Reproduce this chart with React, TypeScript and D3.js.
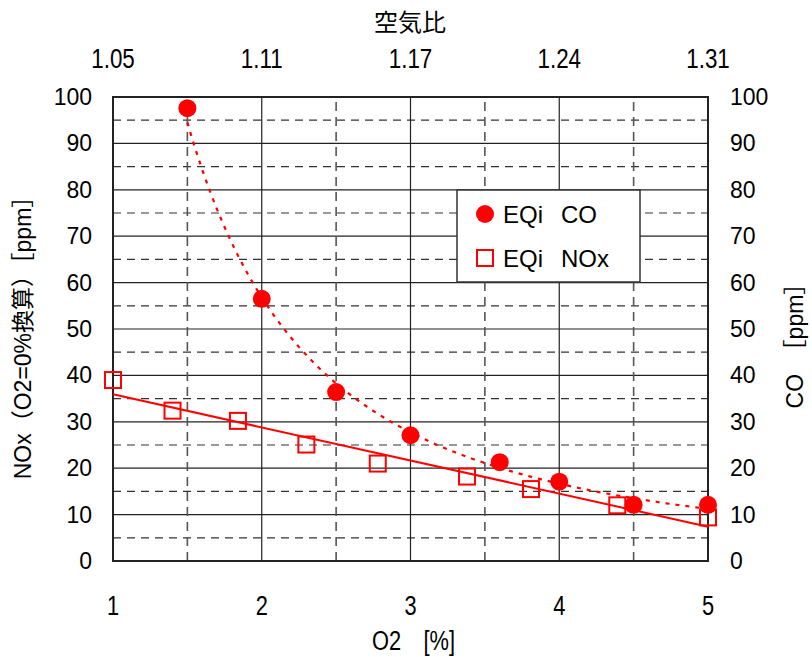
import React from 'react';
import * as d3 from 'd3';

// O2 [%] ticks and the matching air ratio labels on the top axis
const o2Ticks = [1, 2, 3, 4, 5];
const airRatioLabels = ['1.05', '1.11', '1.17', '1.24', '1.31'];
const ppmTicks = [0, 10, 20, 30, 40, 50, 60, 70, 80, 90, 100];

// EQi CO
const coO2 = [1.5, 2, 2.5, 3, 3.6, 4, 4.5, 5];
const coPpm = [97.6, 56.5, 36.4, 27.1, 21.3, 17.1, 12.1, 12.1];

// EQi NOx
const noxO2 = [1, 1.4, 1.84, 2.3, 2.78, 3.38, 3.81, 4.39, 5];
const noxPpm = [39, 32.4, 30.2, 25.1, 21, 18.2, 15.5, 12, 9.4];

const width = 812;
const height = 657;
const margin = { top: 97, right: 104, bottom: 96, left: 113 };

const RED = '#ff0000';
const LATIN = '"Liberation Sans", Arial, sans-serif';
const CJK = '"Liberation Sans", "Noto Sans CJK JP", sans-serif';

// least squares line y = a + b x
const linearFit = (xs: number[], ys: number[]) => {
  const mx = d3.mean(xs)!;
  const my = d3.mean(ys)!;
  const b = d3.sum(xs, (x, i) => (x - mx) * (ys[i] - my)) / d3.sum(xs, x => (x - mx) ** 2);
  return (x: number) => my + b * (x - mx);
};

// power trend y = a x^b (fit in log space)
const powerFit = (xs: number[], ys: number[]) => {
  const lx = xs.map(Math.log);
  const ly = ys.map(Math.log);
  const f = linearFit(lx, ly);
  return (x: number) => Math.exp(f(Math.log(x)));
};

export default function App() {
  const x = d3.scaleLinear().domain([1, 5]).range([margin.left, width - margin.right]);
  const y = d3.scaleLinear().domain([0, 100]).range([height - margin.bottom, margin.top]);

  const noxTrend = linearFit(noxO2, noxPpm);
  const coTrend = powerFit(coO2, coPpm);

  const line = d3.line<number[]>().x(d => x(d[0])).y(d => y(d[1]));
  const noxPath = line([[1, noxTrend(1)], [5, noxTrend(5)]]);
  const coX = d3.range(d3.min(coO2)!, d3.max(coO2)! + 0.001, 0.02);
  const coPath = line(coX.map(v => [v, coTrend(v)]));

  const x0 = margin.left;
  const x1 = width - margin.right;
  const y0 = height - margin.bottom;
  const y1 = margin.top;

  const halfTicks = d3.range(1.5, 5, 1);
  const hSolid = d3.range(10, 100, 10);
  const hDash = d3.range(5, 100, 10);

  return (
    <svg width={width} height={height} style={{ position: 'absolute', left: 0, top: 0 }}>
      <rect width={width} height={height} fill="#fff" />

      {/* grid */}
      {hSolid.map(v => (
        <line key={'hs' + v} x1={x0} x2={x1} y1={y(v)} y2={y(v)} stroke="#222" strokeWidth={1.2} />
      ))}
      {hDash.map(v => (
        <line key={'hd' + v} x1={x0} x2={x1} y1={y(v)} y2={y(v)} stroke="#333" strokeWidth={1.2} strokeDasharray="8,6" />
      ))}
      {o2Ticks.slice(1, -1).map(v => (
        <line key={'vs' + v} x1={x(v)} x2={x(v)} y1={y0} y2={y1} stroke="#222" strokeWidth={1.2} />
      ))}
      {halfTicks.map(v => (
        <line key={'vd' + v} x1={x(v)} x2={x(v)} y1={y0} y2={y1} stroke="#555" strokeWidth={1.6} strokeDasharray="9,6" />
      ))}
      <rect x={x0} y={y1} width={x1 - x0} height={y0 - y1} fill="none" stroke="#222" strokeWidth={2} />

      {/* trend lines */}
      <path d={noxPath!} fill="none" stroke={RED} strokeWidth={2} />
      <path d={coPath!} fill="none" stroke={RED} strokeWidth={2.2} strokeDasharray="4,6" />

      {/* markers */}
      {noxO2.map((v, i) => (
        <rect key={'n' + i} x={x(v) - 8} y={y(noxPpm[i]) - 8} width={16} height={16} fill="none" stroke={RED} strokeWidth={2} />
      ))}
      {coO2.map((v, i) => (
        <circle key={'c' + i} cx={x(v)} cy={y(coPpm[i])} r={9} fill={RED} />
      ))}

      {/* left & right ticks */}
      {ppmTicks.map(v => (
        <g key={'t' + v} fontFamily={LATIN} fontSize={23} fill="#000">
          <text x={92} y={y(v) + 8} textAnchor="end">{v}</text>
          <text x={730} y={y(v) + 8} textAnchor="start">{v}</text>
        </g>
      ))}

      {/* bottom ticks (O2) and top ticks (air ratio) */}
      {o2Ticks.map((v, i) => (
        <g key={'b' + v} fontFamily={LATIN} fontSize={28} fill="#000">
          <text transform={`translate(${x(v)},615) scale(0.78,1)`} textAnchor="middle">{v}</text>
          <text transform={`translate(${x(v)},68) scale(0.8,1)`} textAnchor="middle">{airRatioLabels[i]}</text>
        </g>
      ))}

      {/* titles */}
      <text x={410} y={31} textAnchor="middle" fontFamily='"Noto Sans CJK JP", sans-serif' fontSize={24}>空気比</text>
      <g fontFamily={LATIN} fontSize={28}>
        <text transform="translate(372,650) scale(0.78,1)">O2</text>
        <text transform="translate(455,650) scale(0.78,1)" textAnchor="end">[%]</text>
      </g>
      <text transform="translate(31,332) rotate(-90)" textAnchor="middle" fontFamily={CJK} fontSize={23}>NOx（O2=0%換算）［ppm］</text>
      <text transform="translate(803,340) rotate(-90)" textAnchor="middle" fontFamily={CJK} fontSize={23}>CO　［ppm］</text>

      {/* legend */}
      <rect x={457} y={190} width={183} height={92} fill="#fff" stroke="#333" strokeWidth={1.5} />
      <circle cx={485} cy={214} r={9} fill={RED} />
      <rect x={477} y={250} width={16} height={16} fill="none" stroke={RED} strokeWidth={2} />
      <g fontFamily={LATIN} fontSize={24} fill="#000">
        <text x={503} y={223}>EQi</text>
        <text x={561} y={223}>CO</text>
        <text x={503} y={267}>EQi</text>
        <text x={561} y={267}>NOx</text>
      </g>
    </svg>
  );
}
